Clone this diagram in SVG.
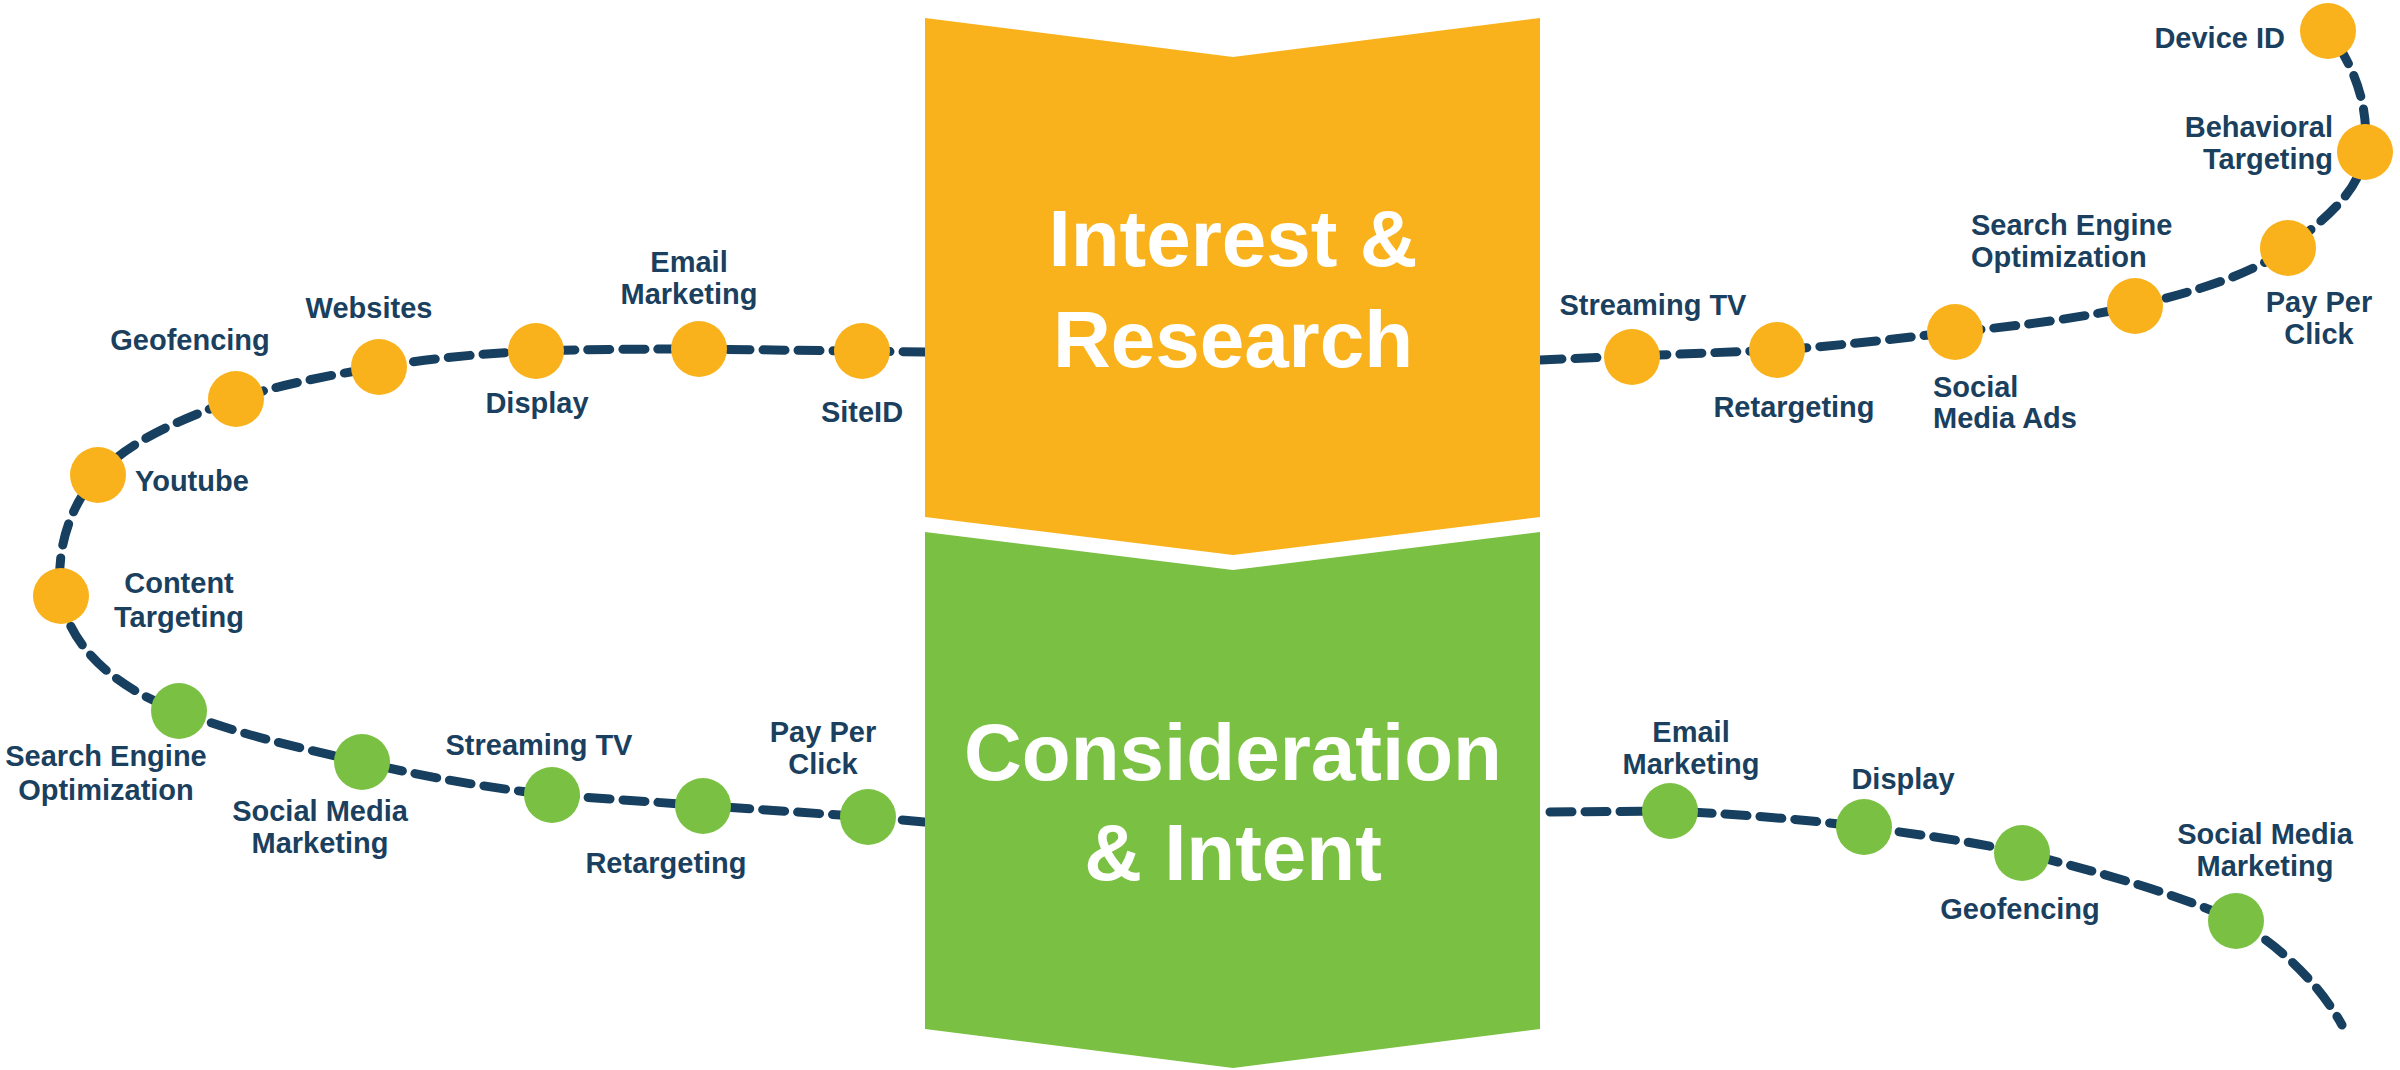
<svg xmlns="http://www.w3.org/2000/svg" width="2400" height="1070" viewBox="0 0 2400 1070">
<style>
.lbl{font-family:"Liberation Sans",Arial,sans-serif;font-weight:bold;font-size:29px;fill:#1b3f5e}
.big{font-family:"Liberation Sans",Arial,sans-serif;font-weight:bold;font-size:80px;fill:#fff;text-anchor:middle}
.c{text-anchor:middle}.r{text-anchor:end}
.o{fill:#f9b21b}.g{fill:#7ac143}
.path{fill:none;stroke:#173f5f;stroke-width:9;stroke-dasharray:22 13;stroke-linecap:round}
</style>
<rect width="2400" height="1070" fill="#fff"/>
<g id="connectors">
<path class="path" d="M925,352 L699,349 C620,349 560,350 536,351 C470,354 420,360 379,367 C320,377 280,385 236,399 C180,420 130,440 98,475 C70,505 55,550 61,596 C70,650 120,690 179,711 C240,735 300,748 362,762 C430,778 490,788 552,795 L868,817 L925,822"/>
<path class="path" d="M1540,360 L1777,350 C1850,345 1900,338 1955,332 C2020,326 2080,318 2135,306 C2200,290 2250,275 2288,248 C2330,215 2360,190 2365,152 C2370,100 2350,60 2328,31"/>
<path class="path" d="M1550,812 L1670,811 C1750,815 1810,820 1864,827 C1930,836 1980,843 2022,853 C2100,872 2180,895 2236,921 C2280,945 2320,985 2342,1025"/>
</g>
<g id="stage-interest">
<polygon class="o" points="925,18 1233,57 1540,18 1540,517 1233,555 925,517"/>
<text class="big" x="1233" y="266">Interest &amp;</text>
<text class="big" x="1233" y="367">Research</text>
</g>
<g id="stage-consideration">
<polygon class="g" points="925,532 1233,570 1540,532 1540,1029 1233,1068 925,1029"/>
<text class="big" x="1233" y="780">Consideration</text>
<text class="big" x="1233" y="880">&amp; Intent</text>
</g>
<g id="n-siteid"><circle class="o" cx="862" cy="351" r="28"/><text class="lbl c" x="862" y="422">SiteID</text></g>
<g id="n-email1"><circle class="o" cx="699" cy="349" r="28"/><text class="lbl c" x="689" y="272">Email</text><text class="lbl c" x="689" y="304">Marketing</text></g>
<g id="n-display1"><circle class="o" cx="536" cy="351" r="28"/><text class="lbl c" x="537" y="413">Display</text></g>
<g id="n-websites"><circle class="o" cx="379" cy="367" r="28"/><text class="lbl c" x="369" y="318">Websites</text></g>
<g id="n-geofencing1"><circle class="o" cx="236" cy="399" r="28"/><text class="lbl c" x="190" y="350">Geofencing</text></g>
<g id="n-youtube"><circle class="o" cx="98" cy="475" r="28"/><text class="lbl" x="135" y="491">Youtube</text></g>
<g id="n-content"><circle class="o" cx="61" cy="596" r="28"/><text class="lbl c" x="179" y="593">Content</text><text class="lbl c" x="179" y="627">Targeting</text></g>
<g id="n-seo1"><circle class="g" cx="179" cy="711" r="28"/><text class="lbl c" x="106" y="766">Search Engine</text><text class="lbl c" x="106" y="800">Optimization</text></g>
<g id="n-smm1"><circle class="g" cx="362" cy="762" r="28"/><text class="lbl c" x="320" y="821">Social Media</text><text class="lbl c" x="320" y="853">Marketing</text></g>
<g id="n-stream1"><circle class="g" cx="552" cy="795" r="28"/><text class="lbl c" x="539" y="755">Streaming TV</text></g>
<g id="n-retarget1"><circle class="g" cx="703" cy="806" r="28"/><text class="lbl c" x="666" y="873">Retargeting</text></g>
<g id="n-ppc1"><circle class="g" cx="868" cy="817" r="28"/><text class="lbl c" x="823" y="742">Pay Per</text><text class="lbl c" x="823" y="774">Click</text></g>
<g id="n-stream2"><circle class="o" cx="1632" cy="357" r="28"/><text class="lbl c" x="1653" y="315">Streaming TV</text></g>
<g id="n-retarget2"><circle class="o" cx="1777" cy="350" r="28"/><text class="lbl c" x="1794" y="417">Retargeting</text></g>
<g id="n-sma"><circle class="o" cx="1955" cy="332" r="28"/><text class="lbl" x="1933" y="397">Social</text><text class="lbl" x="1933" y="428">Media Ads</text></g>
<g id="n-seo2"><circle class="o" cx="2135" cy="306" r="28"/><text class="lbl" x="1971" y="235">Search Engine</text><text class="lbl" x="1971" y="267">Optimization</text></g>
<g id="n-ppc2"><circle class="o" cx="2288" cy="248" r="28"/><text class="lbl c" x="2319" y="312">Pay Per</text><text class="lbl c" x="2319" y="344">Click</text></g>
<g id="n-behavioral"><circle class="o" cx="2365" cy="152" r="28"/><text class="lbl r" x="2333" y="137">Behavioral</text><text class="lbl r" x="2333" y="169">Targeting</text></g>
<g id="n-device"><circle class="o" cx="2328" cy="31" r="28"/><text class="lbl r" x="2285" y="48">Device ID</text></g>
<g id="n-email2"><circle class="g" cx="1670" cy="811" r="28"/><text class="lbl c" x="1691" y="742">Email</text><text class="lbl c" x="1691" y="774">Marketing</text></g>
<g id="n-display2"><circle class="g" cx="1864" cy="827" r="28"/><text class="lbl c" x="1903" y="789">Display</text></g>
<g id="n-geofencing2"><circle class="g" cx="2022" cy="853" r="28"/><text class="lbl c" x="2020" y="919">Geofencing</text></g>
<g id="n-smm2"><circle class="g" cx="2236" cy="921" r="28"/><text class="lbl c" x="2265" y="844">Social Media</text><text class="lbl c" x="2265" y="876">Marketing</text></g>
</svg>
